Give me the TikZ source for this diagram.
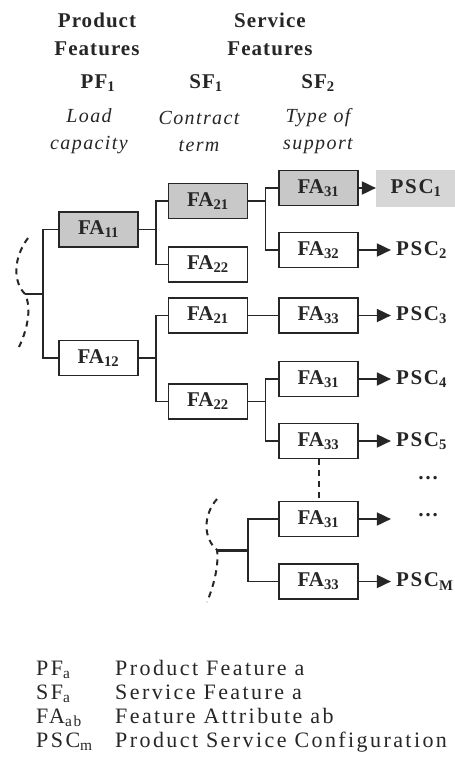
\documentclass[tikz,border=0pt]{standalone}
\usepackage{fontspec}
\setmainfont{Liberation Serif}
\usetikzlibrary{arrows.meta,positioning,calc}
\definecolor{ink}{HTML}{262626}
\definecolor{shade}{HTML}{C8C8C8}
\definecolor{pscshade}{HTML}{D6D6D6}
\newfontfamily\wideserif[LetterSpace=5]{Liberation Serif}
\newfontfamily\slantserif[LetterSpace=7]{Liberation Serif}
\newfontfamily\legendserif[LetterSpace=11]{Liberation Serif}
\newfontfamily\pscserif[LetterSpace=8]{Liberation Serif}
\newcommand{\hdfont}{\wideserif\bfseries\fontsize{21}{28}\selectfont}
\newcommand{\dsfont}{\slantserif\itshape\fontsize{20}{27}\selectfont}
\newcommand{\bxfont}{\bfseries\fontsize{21}{24}\selectfont}
\newcommand{\pcfont}{\pscserif\bfseries\fontsize{21}{24}\selectfont}
\newcommand{\lgfont}{\legendserif\fontsize{22}{24}\selectfont}

\begin{document}
\begin{tikzpicture}[x=1pt,y=-1pt,
  head/.style={align=center,font=\hdfont,text=ink,inner sep=0pt},
  desc/.style={align=center,font=\dsfont,text=ink,inner sep=0pt},
  fa/.style={rectangle,draw=ink,line width=1.8pt,minimum width=79pt,minimum height=35pt,
    inner sep=0pt,font=\bxfont,text=ink,fill=white},
  sel/.style={fa,fill=shade},
  psc/.style={font=\pcfont,text=ink,inner sep=5pt},
  pscsel/.style={psc,fill=pscshade,minimum width=80pt,minimum height=37pt,inner sep=0pt},
  link/.style={draw=ink,line width=1.8pt},
  arr/.style={-{Triangle[length=14pt,width=13pt]},draw=ink,line width=1.8pt},
  guess/.style={draw=ink,line width=2pt,dash pattern=on 6pt off 5pt},
  legend/.style={anchor=base west,font=\lgfont,text=ink,inner sep=0pt},
]
  \useasboundingbox (0,0) rectangle (455,782);

  \node[head] (prodhd) at (97,34) {Product\\Features};
  \node[head] (servhd) at (270,34) {Service\\Features};
  \node[head] (pf1) at (98,83) {PF\textsubscript{1}};
  \node[head] (sf1) at (206,83) {SF\textsubscript{1}};
  \node[head] (sf2) at (318,83) {SF\textsubscript{2}};
  \node[desc] (pf1d) at (89,131) {Load\\capacity};
  \node[desc] (sf1d) at (199,131) {Contract\\term};
  \node[desc] (sf2d) at (318,131) {Type of\\support};

  \node[sel] (fa11) at (98.5,229.5) {FA\textsubscript{11}};
  \node[fa] (fa12) at (98.5,358) {FA\textsubscript{12}};
  \node[sel] (fa21a) at (208,201) {FA\textsubscript{21}};
  \node[fa] (fa22a) at (208,264.5) {FA\textsubscript{22}};
  \node[fa] (fa21b) at (208,315.5) {FA\textsubscript{21}};
  \node[fa] (fa22b) at (208,401.5) {FA\textsubscript{22}};
  \node[sel] (fa31a) at (318.5,188) {FA\textsubscript{31}};
  \node[fa] (fa32) at (318.5,250) {FA\textsubscript{32}};
  \node[fa] (fa33a) at (318.5,315.5) {FA\textsubscript{33}};
  \node[fa] (fa31b) at (318.5,379) {FA\textsubscript{31}};
  \node[fa] (fa33b) at (318.5,441) {FA\textsubscript{33}};
  \node[fa] (fa31c) at (318.5,519) {FA\textsubscript{31}};
  \node[fa] (fa33c) at (318.5,581.5) {FA\textsubscript{33}};

  \node[pscsel,right=17pt of fa31a] (psc1) {PSC\textsubscript{1}};
  \node[psc,right=32pt of fa32] (psc2) {PSC\textsubscript{2}};
  \node[psc,right=32pt of fa33a] (psc3) {PSC\textsubscript{3}};
  \node[psc,right=32pt of fa31b] (psc4) {PSC\textsubscript{4}};
  \node[psc,right=32pt of fa33b] (psc5) {PSC\textsubscript{5}};
  \coordinate[right=32pt of fa31c] (endc);
  \node[psc,right=32pt of fa33c] (pscm) {PSC\textsubscript{M}};
  \node[font=\bxfont,text=ink] (dotsa) at (428,478) {\dots};
  \node[font=\bxfont,text=ink] (dotsb) at (428,515) {\dots};

  \coordinate (root) at (25,294);
  \coordinate (rootb) at (217,550);
  \coordinate (forkb) at (248,550);

  \draw[link] (root) -- +(18,0) |- (fa11.west);
  \draw[link] (root) -- +(18,0) |- (fa12.west);
  \draw[link] (fa11.east) -- +(17,0) |- (fa21a.west);
  \draw[link] (fa11.east) -- +(17,0) |- (fa22a.west);
  \draw[link] (fa21a.east) -- +(17,0) |- (fa31a.west);
  \draw[link] (fa21a.east) -- +(17,0) |- (fa32.west);
  \draw[link] (fa12.east) -- +(17,0) |- (fa21b.west);
  \draw[link] (fa12.east) -- +(17,0) |- (fa22b.west);
  \draw[link] (fa21b) -- (fa33a);
  \draw[link] (fa22b.east) -- +(17,0) |- (fa31b.west);
  \draw[link] (fa22b.east) -- +(17,0) |- (fa33b.west);
  \draw[link,line width=3pt] (rootb) -- (forkb);
  \draw[link] (forkb) |- (fa31c.west);
  \draw[link] (forkb) |- (fa33c.west);
  \draw[guess] (fa33b) -- (fa31c);

  \draw[guess] (28,238) .. controls (13,258) and (13,282) .. (root)
    .. controls (31,306) and (29,326) .. (19,347);
  \draw[guess] (217,499) .. controls (203,515) and (203,538) .. (rootb)
    .. controls (219,565) and (214,585) .. (207,602);

  \draw[arr] (fa31a) -- (psc1);
  \draw[arr] (fa32) -- (psc2);
  \draw[arr] (fa33a) -- (psc3);
  \draw[arr] (fa31b) -- (psc4);
  \draw[arr] (fa33b) -- (psc5);
  \draw[arr] (fa31c) -- (endc);
  \draw[arr] (fa33c) -- (pscm);

  \node[legend] (lpf) at (36,675) {PF\textsubscript{a}};
  \node[legend] (lsf) at (36,699) {SF\textsubscript{a}};
  \node[legend] (lfa) at (36,723) {FA\textsubscript{ab}};
  \node[legend] (lpsc) at (36,747) {PSC\textsubscript{m}};
  \node[legend] (tpf) at (115,675) {Product Feature a};
  \node[legend] (tsf) at (115,699) {Service Feature a};
  \node[legend] (tfa) at (115,723) {Feature Attribute ab};
  \node[legend] (tpsc) at (115,747) {Product Service Configuration};
\end{tikzpicture}
\end{document}
